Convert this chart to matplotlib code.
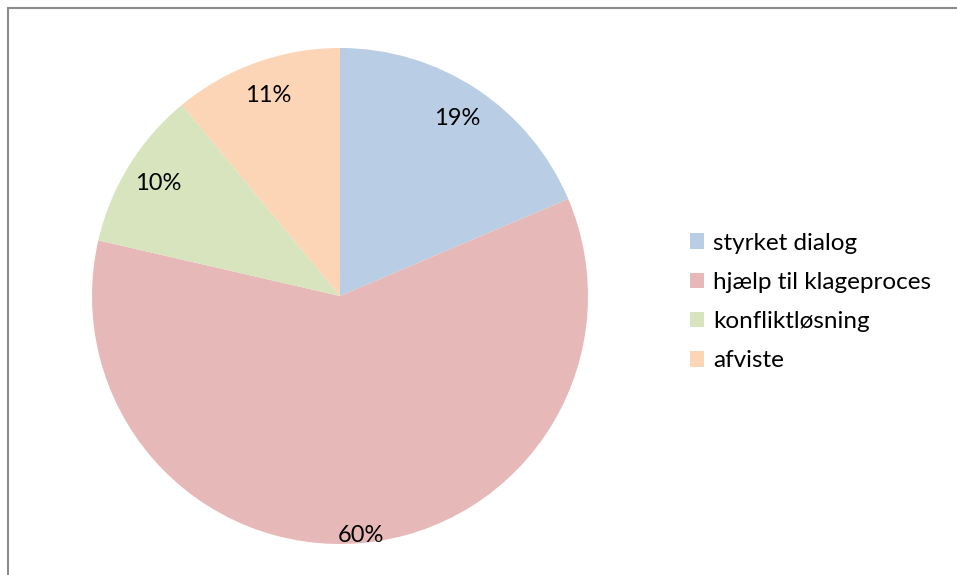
import matplotlib.pyplot as plt
import numpy as np
from matplotlib.patches import Rectangle

# data
categories = ["styrket dialog", "hjælp til klageproces", "konfliktløsning", "afviste"]
shares = [18.6, 60.0, 10.4, 11.0]
pct_labels = ["19%", "60%", "10%", "11%"]
colors = ["#B9CDE5", "#E6B9B8", "#D7E4BD", "#FBD5B5"]
label_radius = [0.86, 0.97, 0.86, 0.86]

plt.rcParams["font.family"] = ["Lato", "DejaVu Sans"]

W, H = 957, 575
fig = plt.figure(figsize=(W / 100, H / 100), dpi=100)

# outer chart border (runs off the right and bottom)
fig.patches.append(Rectangle((8 / W, -0.1), 1.2, (H - 8) / H + 0.1,
                             transform=fig.transFigure, fill=False,
                             edgecolor="#8c8c8c", linewidth=1.5))

cx, cy, r = 340, 296, 248
ax = fig.add_axes([(cx - r) / W, (H - cy - r) / H, 2 * r / W, 2 * r / H])
wedges, _ = ax.pie(shares, colors=colors, startangle=90, counterclock=False,
                   radius=1, wedgeprops=dict(linewidth=0))
ax.set_xlim(-1, 1)
ax.set_ylim(-1, 1)
ax.set_aspect("equal")
ax.axis("off")

for w, lab, rr in zip(wedges, pct_labels, label_radius):
    ang = np.deg2rad((w.theta1 + w.theta2) / 2)
    ax.text(rr * np.cos(ang), rr * np.sin(ang), lab, ha="center", va="center",
            fontsize=17, color="black")

fig.legend(wedges, categories, loc="upper left",
           bbox_to_anchor=(680 / W, 1 - 223 / H), frameon=False,
           fontsize=17.5, handlelength=0.6, handleheight=0.6,
           handletextpad=0.35, labelspacing=0.75, borderaxespad=0)

fig.savefig("out.png", dpi=100)
